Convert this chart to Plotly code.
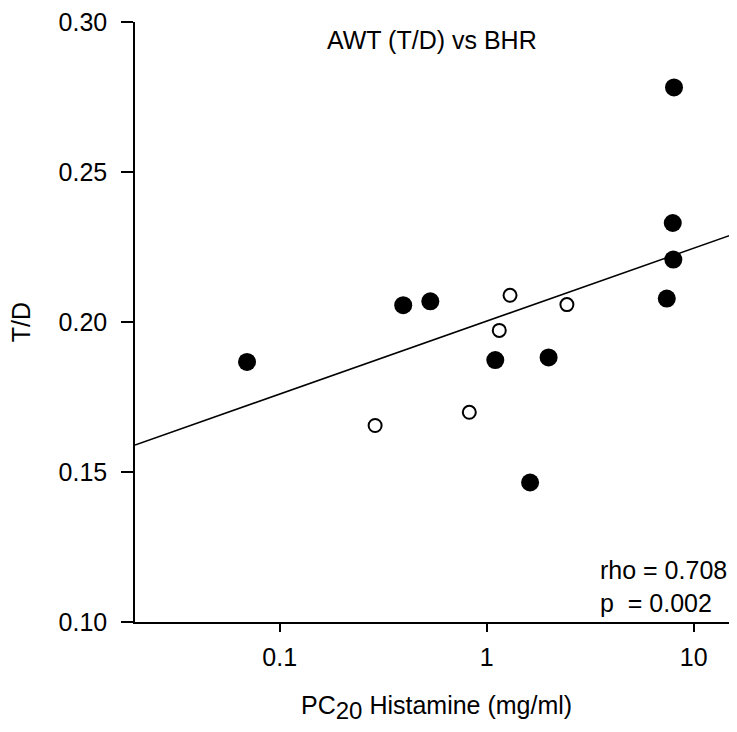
import plotly.graph_objects as go

# Filled circles
filled_x = [0.0695, 0.395, 0.534, 1.10, 1.99, 1.62, 8.03, 7.92, 7.97, 7.41]
filled_y = [0.1867, 0.2056, 0.2069, 0.1873, 0.1882, 0.1465, 0.2782, 0.2330, 0.2208, 0.2078]

# Open circles
open_x = [0.289, 0.824, 1.15, 1.296, 2.44]
open_y = [0.1655, 0.1699, 0.1972, 0.2089, 0.2058]

# Regression line endpoints
reg_x = [0.02, 16.2]
reg_y = [0.1590, 0.2297]

x_ticks = [0.1, 1, 10]
x_ticktext = ["0.1", "1", "10"]
y_ticks = [0.10, 0.15, 0.20, 0.25, 0.30]
y_ticktext = ["0.10", "0.15", "0.20", "0.25", "0.30"]

FONT = "Liberation Sans, Arial, sans-serif"

fig = go.Figure()
fig.add_trace(go.Scatter(x=reg_x, y=reg_y, mode="lines",
                         line=dict(color="black", width=1.5), showlegend=False))
fig.add_trace(go.Scatter(x=filled_x, y=filled_y, mode="markers",
                         marker=dict(size=18, color="black", line=dict(width=0)),
                         showlegend=False))
fig.add_trace(go.Scatter(x=open_x, y=open_y, mode="markers",
                         marker=dict(size=13, color="white", line=dict(color="black", width=2)),
                         showlegend=False))

fig.update_layout(
    width=729, height=724,
    margin=dict(l=127, r=0, t=12, b=110),
    paper_bgcolor="white", plot_bgcolor="white",
    font=dict(family=FONT, size=25, color="black"),
    xaxis=dict(type="log", range=[-1.699, 1.209], showgrid=False, zeroline=False,
               showline=True, linecolor="black", linewidth=1.5,
               ticks="outside", ticklen=8, tickwidth=1.5, tickcolor="black",
               ticklabelstandoff=4, ticklabeloverflow="allow",
               tickvals=x_ticks, ticktext=x_ticktext, tickfont=dict(size=25)),
    yaxis=dict(range=[0.10, 0.30], showgrid=False, zeroline=False,
               showline=True, linecolor="black", linewidth=1.5,
               ticks="outside", ticklen=12, tickwidth=1.5, tickcolor="black",
               ticklabelstandoff=9, ticklabeloverflow="allow",
               tickvals=y_ticks, ticktext=y_ticktext, tickfont=dict(size=25)),
    annotations=[
        dict(text="AWT (T/D) vs BHR", xref="paper", yref="paper", x=0.316, y=0.970,
             xanchor="left", yanchor="middle", showarrow=False, font=dict(size=25)),
        dict(text="rho = 0.708<br>p\u00a0 = 0.002", xref="paper", yref="paper",
             x=0.769, y=0.060, xanchor="left", yanchor="middle", align="left",
             showarrow=False, font=dict(size=25)),
        dict(text="PC<sub><span style='font-size:24px'>20</span></sub> Histamine (mg/ml)",
             xref="paper", yref="paper",
             x=0.5, y=-0.142, xanchor="center", yanchor="middle", showarrow=False,
             font=dict(size=25)),
        dict(text="T/D", xref="paper", yref="paper", x=-0.189, y=0.5, textangle=-90,
             xanchor="center", yanchor="middle", showarrow=False, font=dict(size=25)),
    ],
)

fig.write_html("out.html")
